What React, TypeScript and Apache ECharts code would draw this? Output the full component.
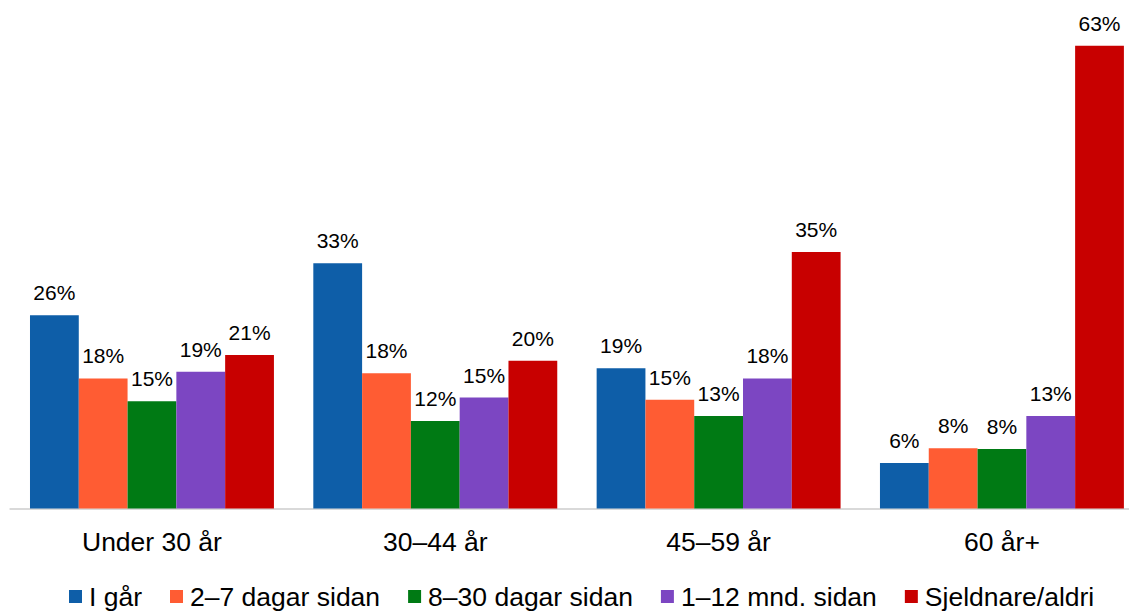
import React, { useEffect, useRef } from "react";
import * as echarts from "echarts";

const categories = ["Under 30 år", "30–44 år", "45–59 år", "60 år+"];
const seriesNames = ["I går", "2–7 dagar sidan", "8–30 dagar sidan", "1–12 mnd. sidan", "Sjeldnare/aldri"];
const iGar = [26.3, 33.4, 19.1, 6.2];
const dagar2_7 = [17.7, 18.4, 14.8, 8.2];
const dagar8_30 = [14.6, 11.9, 12.6, 8.1];
const mnd1_12 = [18.6, 15.1, 17.7, 12.6];
const sjeldnare = [20.9, 20.1, 34.9, 63.0];
const colors = ["#0e5ea8", "#ff5c33", "#007a14", "#7c46c2", "#c80000"];

const FONT = "'Liberation Sans', Arial, Helvetica, sans-serif";

export default function App() {
  const ref = useRef<HTMLDivElement>(null);
  useEffect(() => {
    if (!ref.current) return;
    const chart = echarts.init(ref.current, null, { renderer: "svg" });
    const allData = [iGar, dagar2_7, dagar8_30, mnd1_12, sjeldnare];
    chart.setOption({
      animation: false,
      textStyle: { fontFamily: FONT },
      legend: {
        left: 69,
        top: 583,
        padding: 0,
        itemWidth: 13,
        itemHeight: 13,
        itemGap: 28,
        icon: "rect",
        textStyle: { fontSize: 26.5, color: "#000", fontFamily: FONT, padding: [0, 0, 0, 2] },
        data: seriesNames,
      },
      grid: { left: 10.3, top: 31, width: 1133.3, height: 477.5, containLabel: false },
      xAxis: {
        type: "category",
        data: categories,
        axisLine: { show: true, lineStyle: { color: "#d9d9d9", width: 2 } },
        axisTick: { show: false },
        axisLabel: { fontSize: 26.5, color: "#000", margin: 20, fontFamily: FONT },
      },
      yAxis: { type: "value", min: 0, max: 65, show: false, splitLine: { show: false } },
      series: seriesNames.map((name, i) => ({
        name,
        type: "bar",
        data: allData[i],
        barGap: "0%",
        barCategoryGap: "13.9%",
        itemStyle: { color: colors[i] },
        label: {
          show: true,
          position: "top",
          distance: 12,
          fontSize: 21,
          color: "#000",
          fontFamily: FONT,
          formatter: (p: any) => Math.round(p.value) + "%",
        },
      })),
    });
    return () => chart.dispose();
  }, []);
  return (
    <div
      style={{ position: "fixed", left: 0, top: 0, width: 1129, height: 611, overflow: "hidden", background: "#fff" }}
    >
      <div ref={ref} style={{ position: "absolute", left: 0, top: 0, width: 1150, height: 611 }} />
    </div>
  );
}
